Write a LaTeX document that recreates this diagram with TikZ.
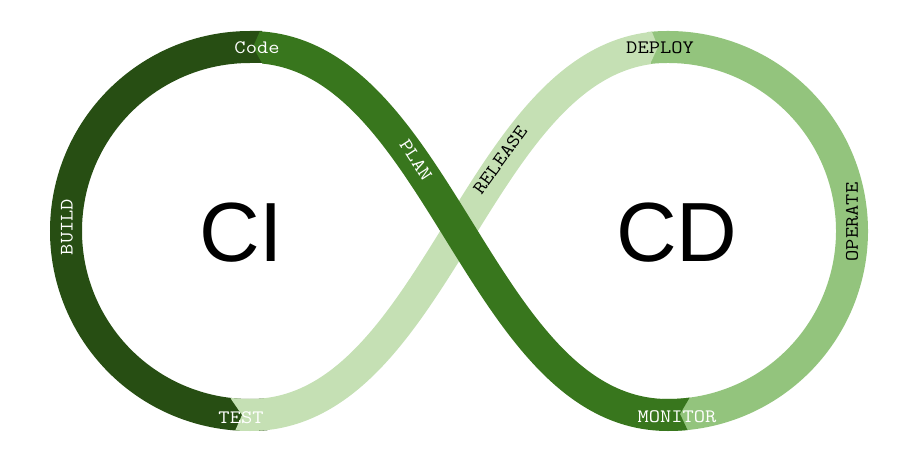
\documentclass[tikz,border=0pt]{standalone}
\usepackage{fontspec}
\newfontfamily\bigsans{Liberation Sans}
\definecolor{cdark}{HTML}{274E13}
\definecolor{cmed}{HTML}{38761D}
\definecolor{clight}{HTML}{C5E0B4}
\definecolor{cmlight}{HTML}{93C47D}
\begin{document}
\begin{tikzpicture}[x=1pt,y=1pt,
  band/.style={line width=32pt},
  lbl/.style={font=\ttfamily\fontsize{19}{19}\selectfont, inner sep=0pt, xscale=1.15},
  lblw/.style={lbl, text=white},
  lblb/.style={lbl, text=black},
  big/.style={font=\bigsans\fontsize{84}{84}\selectfont, inner sep=0pt, text=black}]
\useasboundingbox (0,0) rectangle (910,456);
\coordinate (L) at (250,225);
\coordinate (R) at (668,225);
% dark segment (left loop)
\draw[band, cdark] (262,409) -- (250,409) arc[start angle=90,end angle=275,radius=184];
% medium-light segment (right loop)
\draw[band, cmlight] ([shift={(96:184)}]R) arc[start angle=96,end angle=-92,radius=184];
% light segment (release)
\begin{scope}
\clip (229,456) -- (229,70) -- (231,57) -- (242,41) -- (235,25) -- (233,0) -- (900,0) -- (900,300) -- (650,380) -- (651,394) -- (658,409) -- (652,424) -- (650,456) -- cycle;
\draw[band, clight] ([shift={(255:184)}]L) arc[start angle=255,end angle=270,radius=184] .. controls (440,41) and (478,409) .. (668,409);
\end{scope}
% medium segment (plan)
\begin{scope}
\clip (258,456) -- (260,425) -- (253,409) -- (262,393) -- (266,350) -- (266,0) -- (688,0) -- (688,25) -- (680,42) -- (690,59) -- (692,80) -- (692,456) -- cycle;
\draw[band, cmed] (250,409) .. controls (440,409) and (478,41) .. (668,41) arc[start angle=270,end angle=282,radius=184];
\end{scope}
% labels
\node[lblw] (code) at (257,408) {Code};
\node[lblb] (deploy) at (660,408) {DEPLOY};
\node[lblw] (test) at (241,38) {TEST};
\node[lblw] (monitor) at (677,39) {MONITOR};
\node[rotate=90, lblw] (build) at (67,229) {BUILD};
\node[rotate=90, lblb] (operate) at (852,234) {OPERATE};
\node[rotate=-57, lblw] (plan) at (416,296) {PLAN};
\node[rotate=54, lblb] (release) at (500,296) {RELEASE};
\node[big] (ci) at (241,223) {CI};
\node[big] (cd) at (677,223) {CD};
\end{tikzpicture}
\end{document}
